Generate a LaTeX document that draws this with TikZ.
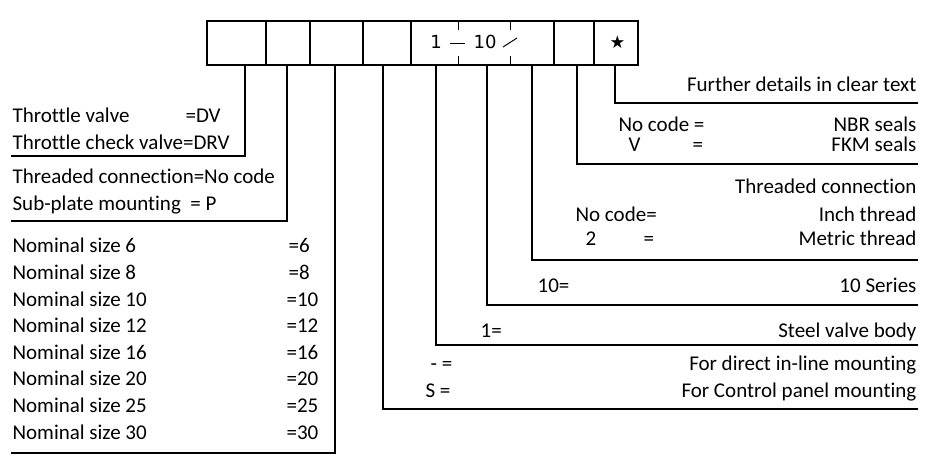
\documentclass[tikz,border=0pt]{standalone}
\usepackage{fontspec}
\setmainfont{Carlito}[Ligatures=NoCommon]
\newfontfamily\dvfont{DejaVu Sans}
\begin{document}
\begin{tikzpicture}[x=1pt,y=-1pt,
  line width=1.2pt,
  cell/.style={draw,line width=1.2pt,minimum height=44pt,inner sep=0pt,outer sep=0pt,anchor=north west},
  lbl/.style={inner sep=0pt,anchor=base west,font=\fontsize{21}{24}\selectfont},
  rlbl/.style={inner sep=0pt,anchor=base east,font=\fontsize{21}{24}\selectfont},
  boxtxt/.style={inner sep=0pt,font=\dvfont\fontsize{18}{20}\selectfont}]
\useasboundingbox (0,0) rectangle (936,463);
% code cells
\node[cell,minimum width=59pt] (c1) at (207,21) {};
\node[cell,minimum width=44pt] (c2) at (266,21) {};
\node[cell,minimum width=53pt] (c3) at (310,21) {};
\node[cell,minimum width=48pt] (c4) at (363,21) {};
\node[cell,minimum width=143pt] (c5) at (411,21) {};
\node[cell,minimum width=40pt] (c6) at (554,21) {};
\node[cell,minimum width=44pt] (c7) at (594,21) {};
% contents of cell 5
\node[boxtxt,anchor=base] (one) at (436,48) {1};
\node[boxtxt,anchor=base] (ten) at (485,48) {10};
\node[boxtxt] (star) at (617.5,42.5) {\fontsize{17.5}{19}\selectfont ★};
\draw[line width=1pt] (450,43) -- (465,43);
\draw[line width=1pt] (503,47) -- (517,38);
\draw[line width=1pt] (458,21) -- (458,30);
\draw[line width=1pt] (458,56) -- (458,65);
\draw[line width=1pt] (510,21) -- (510,30);
\draw[line width=1pt] (510,56) -- (510,65);
% leader starting points
\coordinate (s1) at (245,65);
\coordinate (s2) at (287,65);
\coordinate (s3) at (335,65);
\coordinate (s4) at (383,65);
\coordinate (s5) at (436,65);
\coordinate (s6) at (487,65);
\coordinate (s7) at (532,65);
\coordinate (s8) at (577,65);
\coordinate (s9) at (615,65);
% leader ends
\coordinate (e1) at (11,156);
\coordinate (e2) at (11,221);
\coordinate (e3) at (11,453);
\coordinate (e4) at (918,409);
\coordinate (e5) at (918,345);
\coordinate (e6) at (918,305);
\coordinate (e7) at (918,260);
\coordinate (e8) at (918,164);
\coordinate (e9) at (918,103);
\draw (s1) |- (e1);
\draw (s2) |- (e2);
\draw (s3) |- (e3);
\draw (s4) |- (e4);
\draw (s5) |- (e5);
\draw (s6) |- (e6);
\draw (s7) |- (e7);
\draw (s8) |- (e8);
\draw (s9) |- (e9);
% left texts
\node[lbl] (a1) at (12,122) {Throttle valve};
\node[lbl] (a1b) at (185,122) {=DV};
\node[lbl] (a2) at (12,149) {Throttle check valve=DRV};
\node[lbl] (b1) at (12,183) {Threaded connection=No code};
\node[lbl] (b2) at (12,210) {Sub-plate mounting\ \ = P};
\node[lbl] (n1) at (12,252) {Nominal size 6};
\node[lbl] (n1b) at (288,252) {=6};
\node[lbl] (n2) at (12,279) {Nominal size 8};
\node[lbl] (n2b) at (288,279) {=8};
\node[lbl] (n3) at (12,306) {Nominal size 10};
\node[lbl] (n3b) at (286,306) {=10};
\node[lbl] (n4) at (12,332) {Nominal size 12};
\node[lbl] (n4b) at (286,332) {=12};
\node[lbl] (n5) at (12,359) {Nominal size 16};
\node[lbl] (n5b) at (286,359) {=16};
\node[lbl] (n6) at (12,385) {Nominal size 20};
\node[lbl] (n6b) at (286,385) {=20};
\node[lbl] (n7) at (12,412) {Nominal size 25};
\node[lbl] (n7b) at (286,412) {=25};
\node[lbl] (n8) at (12,439) {Nominal size 30};
\node[lbl] (n8b) at (286,439) {=30};
% right texts
\node[rlbl] (r1) at (917,91) {Further details in clear text};
\node[lbl] (r2a) at (618,131) {No code =};
\node[rlbl] (r2) at (917,131) {NBR seals};
\node[lbl] (r3a) at (628,151) {V};
\node[lbl] (r3b) at (692,151) {=};
\node[rlbl] (r3) at (917,151) {FKM seals};
\node[rlbl] (r4) at (917,193) {Threaded connection};
\node[lbl] (r5a) at (575,221) {No code=};
\node[rlbl] (r5) at (917,221) {Inch thread};
\node[lbl] (r6a) at (585,245) {2};
\node[lbl] (r6b) at (643,245) {=};
\node[rlbl] (r6) at (917,245) {Metric thread};
\node[lbl] (r7a) at (537,292) {10=};
\node[rlbl] (r7) at (917,292) {10 Series};
\node[lbl] (r8a) at (480,337) {1=};
\node[rlbl] (r8) at (917,337) {Steel valve body};
\node[lbl] (r9a) at (430,370) {- =};
\node[rlbl] (r9) at (917,370) {For direct in-line mounting};
\node[lbl] (r10a) at (425,397) {S =};
\node[rlbl] (r10) at (917,397) {For Control panel mounting};
\end{tikzpicture}
\end{document}
